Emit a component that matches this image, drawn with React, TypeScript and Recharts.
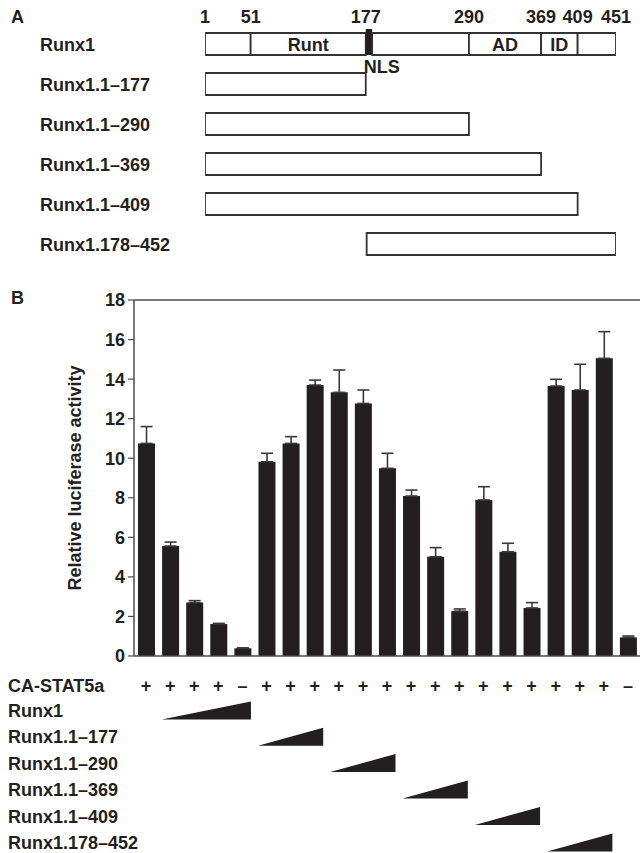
import React from 'react';
import { BarChart, Bar, XAxis, YAxis, ErrorBar, ReferenceLine, LabelList } from 'recharts';

// Panel A: construct map
const proteinRows = ['Runx1', 'Runx1.1–177', 'Runx1.1–290', 'Runx1.1–369', 'Runx1.1–409', 'Runx1.178–452'];
const constructStart = [1, 1, 1, 1, 1, 178];
const constructEnd = [451, 177, 290, 369, 409, 451];
const residueTicks = [1, 51, 177, 290, 369, 409, 451];
const runx1Bounds = [1, 51, 177, 184, 290, 369, 409, 451];
const runx1Domains = ['', 'Runt', 'NLS', '', 'AD', 'ID', ''];

// Panel B: luciferase assay
const activity = [10.75, 5.56, 2.7, 1.62, 0.39, 9.82, 10.75, 13.7, 13.33, 12.77, 9.49, 8.09, 5.02, 2.27, 7.89, 5.27, 2.43, 13.65, 13.45, 15.05, 0.94];
const errorUp = [0.85, 0.2, 0.1, 0.03, 0.02, 0.43, 0.34, 0.25, 1.13, 0.68, 0.76, 0.3, 0.46, 0.11, 0.67, 0.43, 0.27, 0.34, 1.3, 1.35, 0.07];
const stat5a = ['+', '+', '+', '+', '–', '+', '+', '+', '+', '+', '+', '+', '+', '+', '+', '+', '+', '+', '+', '+', '–'];
const doseRows = ['Runx1', 'Runx1.1–177', 'Runx1.1–290', 'Runx1.1–369', 'Runx1.1–409', 'Runx1.178–452'];
const doseFirst = [1, 5, 8, 11, 14, 17];
const doseLast = [4, 7, 10, 13, 16, 19];
const yTicks = [0, 2, 4, 6, 8, 10, 12, 14, 16, 18];

const INK = '#231f20';
const LINE = '#4d4d4d';
const FONT = '"Liberation Sans", Arial, Helvetica, sans-serif';
const FS = 18;
const BAR_SIZE = 17;
const ROW_Y = [29, 54.5, 80.8, 107, 133.5, 160, 186.5];

const txt = { fontFamily: FONT, fontSize: FS, fontWeight: 700, fill: INK };

const mapData = proteinRows.map((name, i) => {
  const row: Record<string, any> = { name, pad: constructStart[i] };
  if (i === 0) {
    runx1Domains.forEach((label, k) => {
      row[`seg${k}`] = runx1Bounds[k + 1] - runx1Bounds[k];
      row[`lab${k}`] = label;
    });
  } else {
    row.body = constructEnd[i] - constructStart[i];
  }
  return row;
});

const assayData = activity.map((v, i) => ({ lane: i + 1, value: v, err: [0, errorUp[i]] }));

const domainLabel = (p: any) => {
  if (!p.value) return null;
  const vb = p.viewBox || p;
  if (p.value === 'NLS') {
    return (
      <text x={vb.x - 2} y={vb.y + vb.height + 18} style={txt}>
        {p.value}
      </text>
    );
  }
  return (
    <text x={vb.x + vb.width / 2} y={vb.y + vb.height / 2 + 6.5} textAnchor="middle" style={txt}>
      {p.value}
    </text>
  );
};

const NlsShape = (p: any) => {
  if (!p.width) return null;
  return <rect x={p.x} y={p.y - 4} width={p.width} height={p.height + 4} fill={INK} />;
};

const ResidueTick = ({ x, y, payload }: any) => (
  <text x={x} y={y + 1} textAnchor="middle" style={txt}>
    {payload.value}
  </text>
);

const RowTick = ({ y, payload }: any) => (
  <text x={40} y={y + 6.5} style={txt}>
    {payload.value}
  </text>
);

const TableTick = ({ x, y, payload, index }: any) => {
  const i = payload.index ?? index;
  const bw = payload.offset ? payload.offset * 2 : (640 - 134) / activity.length;
  const half = BAR_SIZE / 2;
  return (
    <g>
      <text x={x} y={y + ROW_Y[0] + 6.5} textAnchor="middle" style={txt}>
        {stat5a[i]}
      </text>
      {doseLast.map((last, r) => {
        if (last !== i) return null;
        const left = x - (last - doseFirst[r]) * bw - half;
        const right = x + half;
        const cy = y + ROW_Y[r + 1];
        return <polygon key={r} points={`${left},${cy + 9} ${right},${cy + 9} ${right},${cy - 9}`} fill={INK} />;
      })}
      {i === 0 && (
        <g>
          <text x={8} y={y + ROW_Y[0] + 6.5} style={txt}>CA-STAT5a</text>
          {doseRows.map((name, r) => (
            <text key={name} x={8} y={y + ROW_Y[r + 1] + 6.5} style={txt}>
              {name}
            </text>
          ))}
        </g>
      )}
    </g>
  );
};

export default function App() {
  const boxStroke = { stroke: '#333', strokeWidth: 1.8 };
  return (
    <div style={{ position: 'absolute', left: 0, top: 0, width: 640, height: 853, overflow: 'hidden', background: '#fff', fontFamily: FONT }}>
      <div style={{ position: 'absolute', left: 11, top: 8, fontSize: FS, fontWeight: 700, lineHeight: '18px', color: INK }}>A</div>
      <div style={{ position: 'absolute', left: 11, top: 289, fontSize: FS, fontWeight: 700, lineHeight: '18px', color: INK }}>B</div>

      <div style={{ position: 'absolute', left: 0, top: 0 }}>
        <BarChart width={640} height={270} data={mapData} layout="vertical" margin={{ top: 0, right: 24, left: 0, bottom: 6 }} barSize={22}>
          <XAxis type="number" orientation="top" domain={[1, 451]} ticks={residueTicks} allowDataOverflow height={24} axisLine={false} tickLine={false} tickSize={0} tick={<ResidueTick />} />
          <YAxis type="category" dataKey="name" width={205} axisLine={false} tickLine={false} tick={<RowTick />} />
          <Bar dataKey="pad" stackId="a" fill="transparent" isAnimationActive={false} />
          {runx1Domains.map((label, k) => (
            <Bar
              key={k}
              dataKey={`seg${k}`}
              stackId="a"
              fill={label === 'NLS' ? INK : '#fff'}
              {...(label === 'NLS' ? { shape: <NlsShape /> } : boxStroke)}
              isAnimationActive={false}
            >
              <LabelList dataKey={`lab${k}`} content={domainLabel} />
            </Bar>
          ))}
          <Bar dataKey="body" stackId="a" fill="#fff" {...boxStroke} isAnimationActive={false} />
        </BarChart>
      </div>

      <div style={{ position: 'absolute', left: 0, top: 280 }}>
        <BarChart width={640} height={573} data={assayData} margin={{ top: 20, right: 0, left: 0, bottom: 0 }} barSize={BAR_SIZE}>
          <XAxis dataKey="lane" interval={0} height={197} tickLine={false} tickSize={0} tickMargin={0} axisLine={{ stroke: LINE, strokeWidth: 1.5 }} tick={<TableTick />} />
          <YAxis
            domain={[0, 18]}
            ticks={yTicks}
            width={134}
            tickSize={6}
            tickMargin={3}
            axisLine={{ stroke: LINE, strokeWidth: 1.5 }}
            tickLine={{ stroke: LINE, strokeWidth: 1.2 }}
            tick={{ ...txt }}
            label={{ value: 'Relative luciferase activity', angle: -90, position: 'insideLeft', offset: 75, style: { ...txt, textAnchor: 'middle' } }}
          />
          <ReferenceLine y={18} stroke={LINE} strokeWidth={1.5} />
          <Bar dataKey="value" fill={INK} isAnimationActive={false}>
            <ErrorBar dataKey="err" direction="y" width={6} stroke="#3a3a3a" strokeWidth={1.6} />
          </Bar>
        </BarChart>
      </div>
    </div>
  );
}
